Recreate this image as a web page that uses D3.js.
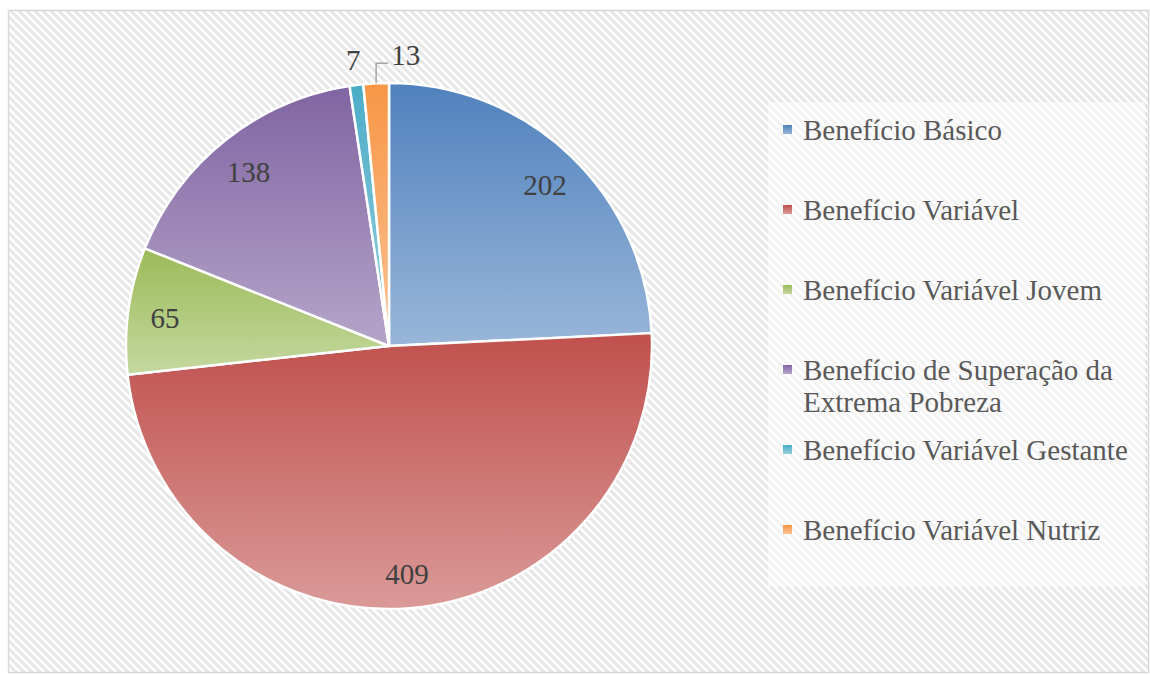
<!DOCTYPE html>
<html>
<head>
<meta charset="utf-8">
<script src="https://cdn.jsdelivr.net/npm/d3@7"></script>
<style>
  html, body { margin: 0; padding: 0; background: #fff; }
  svg { display: block; }
</style>
</head>
<body>
<div id="chart"></div>
<script>
// dados do gráfico
const categories = [
  'Benefício Básico',
  'Benefício Variável',
  'Benefício Variável Jovem',
  'Benefício de Superação da Extrema Pobreza',
  'Benefício Variável Gestante',
  'Benefício Variável Nutriz'
];
const values = [202, 409, 65, 138, 7, 13];
// linhas da legenda (quebra do texto longo)
const legendLines = [
  ['Benefício Básico'],
  ['Benefício Variável'],
  ['Benefício Variável Jovem'],
  ['Benefício de Superação da', 'Extrema Pobreza'],
  ['Benefício Variável Gestante'],
  ['Benefício Variável Nutriz']
];
const baseColors = ['#4f81bd', '#c0504d', '#9bbb59', '#8064a2', '#4bacc6', '#f79646'];

const width = 1150;
const height = 675;
const cx = 389, cy = 346, radius = 263;

const svg = d3.select('#chart')
  .append('svg')
  .attr('width', width)
  .attr('height', height);

const defs = svg.append('defs');

// fundo hachurado
const pattern = defs.append('pattern')
  .attr('id', 'hatch')
  .attr('patternUnits', 'userSpaceOnUse')
  .attr('width', 8)
  .attr('height', 8);
pattern.append('rect').attr('width', 8).attr('height', 8).attr('fill', '#ffffff');
pattern.append('path')
  .attr('d', 'M-2,-2 L10,10 M-2,6 L2,10 M6,-2 L10,2')
  .attr('stroke', '#e6e6e6')
  .attr('stroke-width', 3);

// gradientes das fatias
baseColors.forEach((c, i) => {
  const g = defs.append('linearGradient')
    .attr('id', `grad-${i}`)
    .attr('x1', '0%').attr('y1', '0%')
    .attr('x2', '0%').attr('y2', '100%');
  g.append('stop').attr('offset', '0%').attr('stop-color', c);
  g.append('stop').attr('offset', '100%')
    .attr('stop-color', d3.interpolateRgb(c, '#ffffff')(0.42));
});

svg.append('rect')
  .attr('x', 8.5).attr('y', 10.5)
  .attr('width', width - 10).attr('height', height - 13)
  .attr('fill', 'url(#hatch)')
  .attr('stroke', '#d9d9d9')
  .attr('stroke-width', 1.5);

// pizza
const pie = d3.pie().sort(null).value(d => d);
const arcs = pie(values);
const arc = d3.arc().innerRadius(0).outerRadius(radius);

const g = svg.append('g').attr('transform', `translate(${cx},${cy})`);

arcs.forEach((a, i) => {
  g.append('path')
    .attr('d', arc(a))
    .attr('fill', `url(#grad-${i})`)
    .attr('stroke', '#ffffff')
    .attr('stroke-width', 2.5)
    .attr('stroke-linejoin', 'round');
});

// rótulos de dados
const labelArc = d3.arc().innerRadius(radius * 0.86).outerRadius(radius * 0.86);
const outerArc = d3.arc().innerRadius(radius * 1.095).outerRadius(radius * 1.095);
const labelFont = "'Liberation Serif', 'Times New Roman', serif";
const fontSize = '29px';

arcs.forEach((a, i) => {
  const v = values[i];
  if (v >= 20) {
    const [x, y] = labelArc.centroid(a);
    g.append('text')
      .attr('x', x).attr('y', y + 3)
      .attr('text-anchor', 'middle')
      .attr('dominant-baseline', 'central')
      .style('font-family', labelFont)
      .style('font-size', fontSize)
      .style('fill', '#404040')
      .text(v);
  } else if (i === 4) {
    const [x, y] = outerArc.centroid(a);
    g.append('text')
      .attr('x', x).attr('y', y)
      .attr('text-anchor', 'middle')
      .attr('dominant-baseline', 'central')
      .style('font-family', labelFont)
      .style('font-size', fontSize)
      .style('fill', '#404040')
      .text(v);
  } else {
    // rótulo com linha de chamada
    const mid = (a.startAngle + a.endAngle) / 2;
    const x0 = Math.sin(mid) * radius;
    const y0 = -Math.cos(mid) * radius;
    const y1 = y0 - 20;
    const x2 = x0 + 12;
    g.append('path')
      .attr('d', `M${x0},${y0} L${x0},${y1} L${x2},${y1}`)
      .attr('fill', 'none')
      .attr('stroke', '#a6a6a6')
      .attr('stroke-width', 1.5);
    g.append('text')
      .attr('x', x2 + 3).attr('y', y1 - 8)
      .attr('text-anchor', 'start')
      .attr('dominant-baseline', 'central')
      .style('font-family', labelFont)
      .style('font-size', fontSize)
      .style('fill', '#404040')
      .text(v);
  }
});

// legenda
const legend = svg.append('g').attr('class', 'legend');
legend.append('rect')
  .attr('x', 768).attr('y', 102)
  .attr('width', 377).attr('height', 485)
  .attr('fill', '#ffffff')
  .attr('fill-opacity', 0.5);

const legendY = d3.scaleLinear().domain([0, 1]).range([130, 210]);

categories.forEach((c, i) => {
  const y = legendY(i);
  legend.append('rect')
    .attr('x', 783).attr('y', y - 5)
    .attr('width', 9).attr('height', 9)
    .attr('fill', `url(#grad-${i})`);
  const t = legend.append('text')
    .attr('x', 803).attr('y', y)
    .style('font-family', labelFont)
    .style('font-size', fontSize)
    .style('fill', '#595959');
  legendLines[i].forEach((line, j) => {
    t.append('tspan')
      .attr('x', 803)
      .attr('y', y + j * 32)
      .attr('dominant-baseline', 'central')
      .text(line);
  });
});
</script>
</body>
</html>
